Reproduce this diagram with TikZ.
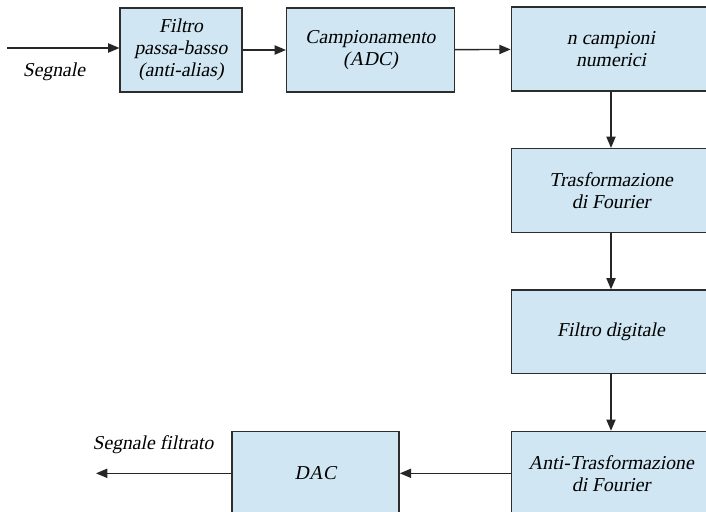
\documentclass[tikz,border=0pt]{standalone}
\usepackage{fontspec}
\newfontfamily\blockfont{Liberation Serif}[FakeSlant=0.2]
\usetikzlibrary{arrows.meta, positioning}

\definecolor{boxblue}{RGB}{208,230,243}
\definecolor{boxline}{RGB}{45,45,45}

\begin{document}
\begin{tikzpicture}[
    x=0.025cm, y=-0.025cm,
    font=\blockfont\fontsize{14}{15.5}\selectfont,
    >={Triangle[length=8pt, width=6.5pt]},
    node distance=1.41cm and 2.77cm,
    % blocchi
    block/.style={draw=boxline, line width=1pt, fill=boxblue, align=center, inner sep=2pt,
                  minimum height=2.09cm},
    % frecce
    flow/.style={->, line width=1pt, color=black!85}
]

% area visibile (ritagliata come nell'originale)
\useasboundingbox (0,0) rectangle (706,512);
\clip (0,0) rectangle (706,512);

% ==================== riga superiore ====================
\node[block, minimum width=3.04cm] (Filtro) at (181,50) {Filtro\\passa-basso\\(anti-alias)};
\node[block, minimum width=4.19cm] (Campion) at (370.5,50) {Campionamento\\(ADC)};
\node[block, minimum width=4.98cm] (Campioni) at (611,49) {n campioni\\numerici};

% ==================== colonna destra ====================
\node[block, minimum width=4.98cm, below=of Campioni] (Fourier) {Trasformazione\\di Fourier};
\node[block, minimum width=4.98cm, below=of Fourier] (FiltroDig) {Filtro digitale};
\node[block, minimum width=4.98cm, below=of FiltroDig] (AntiFourier) {Anti-Trasformazione\\di Fourier};

% ==================== riga inferiore ====================
\node[block, minimum width=4.18cm, left=of AntiFourier] (DAC) {DAC};

% ingresso / uscita
\coordinate (In) at (7,48);
\coordinate (Out) at (96,470);
\node (InLab) at (54,72) {Segnale};
\node (OutLab) at (153,445) {Segnale filtrato};

% ==================== connessioni ====================
\draw[flow] (In) -- (In -| Filtro.west);
\draw[flow] (Filtro) -- (Campion);
\draw[flow] (Campion) -- (Campioni);
\draw[flow] (Campioni) -- (Fourier);
\draw[flow] (Fourier) -- (FiltroDig);
\draw[flow] (FiltroDig) -- (AntiFourier);
\draw[flow] (AntiFourier) -- (DAC);
\draw[flow] (DAC.west) -- (DAC.west -| Out);

\end{tikzpicture}
\end{document}
